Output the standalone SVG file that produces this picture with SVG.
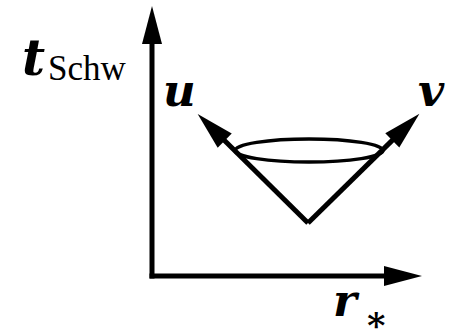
<svg xmlns="http://www.w3.org/2000/svg" width="450" height="329" viewBox="0 0 450 329">
<style>
.ln{stroke:#000;stroke-width:5;fill:none;stroke-linecap:butt;stroke-linejoin:miter}
.mi{font-family:"DejaVu Serif","Liberation Serif",serif;font-style:italic;font-weight:bold;fill:#000}
.rm{font-family:"Liberation Serif","DejaVu Serif",serif;fill:#000}
</style>
<defs>
<marker id="ah" markerUnits="userSpaceOnUse" markerWidth="40" markerHeight="22" refX="1" refY="10" orient="auto" viewBox="0 0 40 20" overflow="visible">
<path d="M0,0 L38,10 L0,20 Z" fill="#000"/>
</marker>
</defs>
<g id="connectors">
<path id="axis-t" class="ln" d="M152,278.5 L152,43" marker-end="url(#ah)"/>
<path id="axis-r" class="ln" d="M149.5,276 L385,276" marker-end="url(#ah)"/>
<path id="arrow-u" class="ln" d="M308,223 L224,140" marker-end="url(#ah)"/>
<path id="arrow-v" class="ln" d="M308,223 L393,139.6" marker-end="url(#ah)"/>
</g>
<g id="cone">
<ellipse cx="309" cy="150.5" rx="74" ry="11.5" stroke="#000" stroke-width="3.5" fill="none"/>
</g>
<g id="label-t">
<text class="mi" x="22" y="75" font-size="50">t</text>
<text class="rm" x="48" y="80" font-size="35">Schw</text>
</g>
<g id="label-u"><text class="mi" x="163" y="106" font-size="45">u</text></g>
<g id="label-v"><text class="mi" x="418" y="106" font-size="45">v</text></g>
<g id="label-r">
<text class="mi" x="333" y="316" font-size="45">r</text>
<text class="mi" x="364" y="331" font-size="35">∗</text>
</g>
</svg>
